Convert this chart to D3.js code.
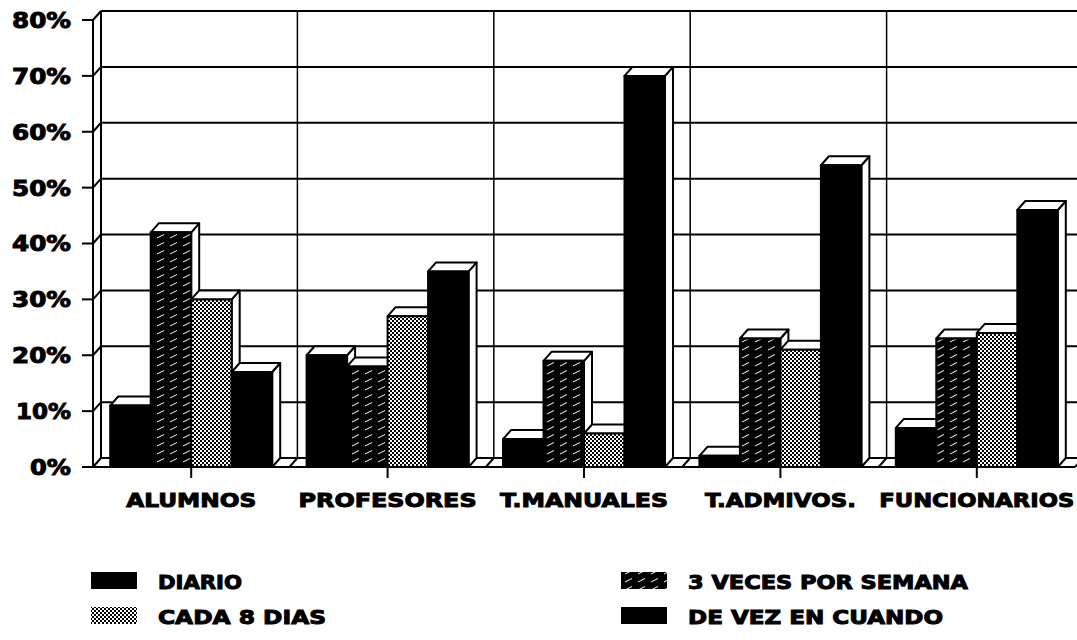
<!DOCTYPE html>
<html>
<head>
<meta charset="utf-8">
<script src="https://cdn.jsdelivr.net/npm/d3@7"></script>
<style>
    body { margin: 0; background: #fff; }
    text { font-family: "DejaVu Sans", "Liberation Sans", sans-serif; font-weight: bold; fill: #000; stroke: #000; stroke-width: 1px; }
</style>
</head>
<body>
<div id="chart"></div>
<script>
// data (share of respondents)
let categories = ["ALUMNOS", "PROFESORES", "T.MANUALES", "T.ADMIVOS.", "FUNCIONARIOS"];
let series = ["DIARIO", "3 VECES POR SEMANA", "CADA 8 DIAS", "DE VEZ EN CUANDO"];
let diario = [0.11, 0.20, 0.05, 0.02, 0.07];
let tresVeces = [0.42, 0.18, 0.19, 0.23, 0.23];
let cada8 = [0.30, 0.27, 0.06, 0.21, 0.24];
let deVez = [0.17, 0.35, 0.70, 0.54, 0.46];
let yTicks = [0, 0.1, 0.2, 0.3, 0.4, 0.5, 0.6, 0.7, 0.8];
let labelWidths = [130, 178, 168, 151, 195];

let values = [diario, tresVeces, cada8, deVez];
let fills = ["#000", "url(#hatch)", "url(#dots)", "#000"];

let width = 1077, height = 640;
let left = 93, right = 1075, base = 467;
let dx = 8, dy = -9;

let svg = d3.select("#chart").append("svg")
    .attr("width", width)
    .attr("height", height);

// patterns
let defs = svg.append("defs");
let hatch = defs.append("pattern")
    .attr("id", "hatch")
    .attr("patternUnits", "userSpaceOnUse")
    .attr("width", 13).attr("height", 8);
hatch.append("rect").attr("width", 13).attr("height", 8).attr("fill", "#000");
hatch.append("line").attr("x1", 1).attr("y1", 6).attr("x2", 8).attr("y2", 2.5)
    .attr("stroke", "#fff").attr("stroke-width", 1);

let dots = defs.append("pattern")
    .attr("id", "dots")
    .attr("patternUnits", "userSpaceOnUse")
    .attr("width", 4).attr("height", 4);
dots.append("rect").attr("width", 4).attr("height", 4).attr("fill", "#fff");
dots.append("rect").attr("x", 0).attr("y", 0).attr("width", 2).attr("height", 2).attr("fill", "#000");
dots.append("rect").attr("x", 2).attr("y", 2).attr("width", 2).attr("height", 2).attr("fill", "#000");

// scales
let y = d3.scaleLinear().domain([0, 0.8]).range([base, 20]);
let x0 = d3.scaleBand().domain(categories).range([left, right]);
let x1 = d3.scaleBand().domain(series).range([0, x0.bandwidth()]).paddingOuter(0.425);

let lines = svg.append("g")
    .attr("stroke", "#000")
    .attr("stroke-width", 2)
    .attr("fill", "none");

// back wall gridlines
yTicks.forEach(t => {
    lines.append("line")
        .attr("x1", left + dx).attr("x2", right + dx)
        .attr("y1", y(t) + dy).attr("y2", y(t) + dy);
    // left wall diagonal
    lines.append("line")
        .attr("x1", left).attr("x2", left + dx)
        .attr("y1", y(t)).attr("y2", y(t) + dy);
    // tick
    lines.append("line")
        .attr("x1", left - 11).attr("x2", left)
        .attr("y1", y(t)).attr("y2", y(t));
});

lines.append("line")
    .attr("x1", left).attr("x2", left)
    .attr("y1", y(0.8)).attr("y2", base);
lines.append("line")
    .attr("x1", left + dx).attr("x2", left + dx)
    .attr("y1", y(0.8) + dy).attr("y2", base + dy);

// back wall verticals and floor diagonals at category boundaries
categories.slice(1).forEach(c => {
    let bx = x0(c);
    lines.append("line")
        .attr("x1", bx + dx).attr("x2", bx + dx)
        .attr("y1", y(0.8) + dy).attr("y2", base + dy)
        .attr("stroke-width", 1.5);
    lines.append("line")
        .attr("x1", bx).attr("x2", bx + dx)
        .attr("y1", base).attr("y2", base + dy);
});

// floor
lines.append("line")
    .attr("x1", left - 11).attr("x2", right)
    .attr("y1", base).attr("y2", base);
lines.append("line")
    .attr("x1", right).attr("x2", right + dx)
    .attr("y1", base).attr("y2", base + dy);

// category ticks
categories.forEach(c => {
    let cx = x0(c) + x0.bandwidth() / 2;
    lines.append("line")
        .attr("x1", cx).attr("x2", cx)
        .attr("y1", base).attr("y2", base + 11);
});

// bars
let bars = svg.append("g")
    .attr("stroke", "#000")
    .attr("stroke-width", 2)
    .attr("stroke-linejoin", "round");

categories.forEach((c, ci) => {
    series.forEach((s, si) => {
        let v = values[si][ci];
        let bx = x0(c) + x1(s);
        let w = x1.bandwidth();
        let top = y(v);

        bars.append("polygon")
            .attr("points", [[bx + w, top], [bx + w + dx, top + dy], [bx + w + dx, base + dy], [bx + w, base]].join(" "))
            .attr("fill", "#fff");
        bars.append("polygon")
            .attr("points", [[bx, top], [bx + dx, top + dy], [bx + w + dx, top + dy], [bx + w, top]].join(" "))
            .attr("fill", "#fff");
        bars.append("rect")
            .attr("x", bx).attr("y", top)
            .attr("width", w).attr("height", base - top)
            .attr("fill", fills[si]);
    });
});

// y labels
svg.append("g").selectAll("text")
    .data(yTicks)
    .enter().append("text")
    .attr("x", 71)
    .attr("y", d => y(d))
    .attr("dy", "0.36em")
    .attr("text-anchor", "end")
    .attr("font-size", 22)
    .attr("textLength", d => d === 0 ? 41 : (d === 0.1 ? 55 : 59))
    .attr("lengthAdjust", "spacingAndGlyphs")
    .text(d => Math.round(d * 100) + "%");

// x labels
svg.append("g").selectAll("text")
    .data(categories)
    .enter().append("text")
    .attr("x", (d, i) => x0(d) + x0.bandwidth() / 2 - labelWidths[i] / 2)
    .attr("y", 507)
    .attr("font-size", 20)
    .attr("textLength", (d, i) => labelWidths[i])
    .attr("lengthAdjust", "spacingAndGlyphs")
    .text(d => d);

// legend
let legendPos = [[91, 572], [621, 572], [91, 607], [621, 607]];
let legendOrder = ["DIARIO", "3 VECES POR SEMANA", "CADA 8 DIAS", "DE VEZ EN CUANDO"];
let legendWidths = [84, 280, 168, 255];

let legend = svg.append("g");
legendOrder.forEach((s, i) => {
    let si = series.indexOf(s);
    let p = legendPos[i];
    legend.append("rect")
        .attr("x", p[0]).attr("y", p[1])
        .attr("width", 46).attr("height", 17)
        .attr("fill", fills[si]);
    legend.append("text")
        .attr("x", p[0] + 67).attr("y", p[1] + 17)
        .attr("font-size", 19)
        .attr("textLength", legendWidths[i])
        .attr("lengthAdjust", "spacingAndGlyphs")
        .text(s);
});
</script>
</body>
</html>
